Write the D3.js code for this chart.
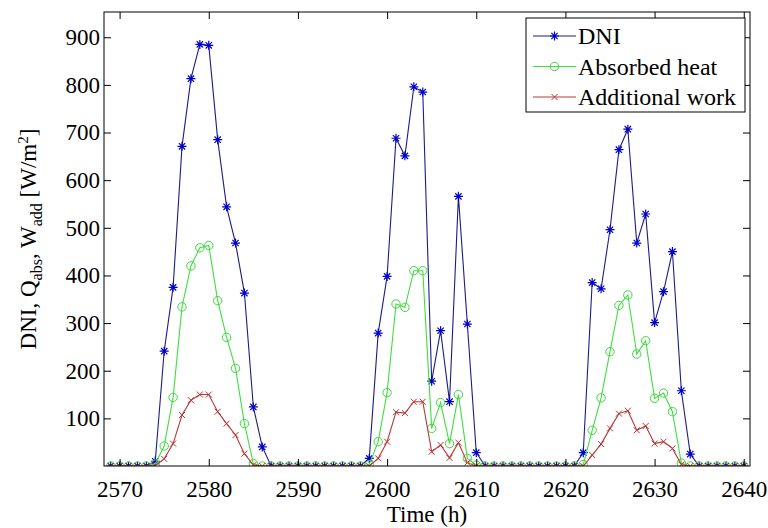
<!DOCTYPE html>
<html>
<head>
<meta charset="utf-8">
<script src="https://cdn.jsdelivr.net/npm/d3@7"></script>
<style>
    body { margin: 0; background: #fff; }
</style>
</head>
<body>
<div id="chart"></div>
<script>
// Hours (x values)
const hours = [
    2569, 2570, 2571, 2572, 2573, 2574, 2575, 2576, 2577, 2578, 2579, 2580,
    2581, 2582, 2583, 2584, 2585, 2586, 2587, 2588, 2589, 2590, 2591, 2592,
    2593, 2594, 2595, 2596, 2597, 2598, 2599, 2600, 2601, 2602, 2603, 2604,
    2605, 2606, 2607, 2608, 2609, 2610, 2611, 2612, 2613, 2614, 2615, 2616,
    2617, 2618, 2619, 2620, 2621, 2622, 2623, 2624, 2625, 2626, 2627, 2628,
    2629, 2630, 2631, 2632, 2633, 2634, 2635, 2636, 2637, 2638, 2639, 2640
];

const dni = [
    0, 0, 0, 0, 0, 10, 241, 375, 671, 813, 885, 883,
    685, 544, 468, 363, 124, 40, 0, 0, 0, 0, 0, 0,
    0, 0, 0, 0, 0, 16, 279, 398, 688, 651, 796, 785,
    178, 284, 135, 566, 298, 28, 0, 0, 0, 0, 0, 0,
    0, 0, 0, 0, 0, 28, 385, 372, 496, 664, 707, 468,
    529, 301, 366, 450, 158, 25, 0, 0, 0, 0, 0, 0
];

const absorbedHeat = [
    0, 0, 0, 0, 0, 4, 42, 144, 334, 420, 458, 463,
    347, 270, 205, 89, 5, 0, 0, 0, 0, 0, 0, 0,
    0, 0, 0, 0, 0, 3, 51, 154, 340, 333, 410, 410,
    79, 133, 47, 150, 16, 2, 0, 0, 0, 0, 0, 0,
    0, 0, 0, 0, 0, 3, 75, 143, 240, 337, 359, 235,
    263, 142, 153, 114, 6, 0, 0, 0, 0, 0, 0, 0
];

const additionalWork = [
    0, 0, 0, 0, 0, 1, 15, 47, 107, 138, 150, 150,
    114, 89, 65, 26, 2, 0, 0, 0, 0, 0, 0, 0,
    0, 0, 0, 0, 0, 0, 16, 51, 113, 111, 135, 135,
    30, 44, 17, 49, 7, 0, 0, 0, 0, 0, 0, 0,
    0, 0, 0, 0, 0, 0, 23, 46, 79, 110, 116, 75,
    84, 47, 51, 37, 3, 0, 0, 0, 0, 0, 0, 0
];

const xTicks = [2570, 2580, 2590, 2600, 2610, 2620, 2630, 2640];
const yTicks = [100, 200, 300, 400, 500, 600, 700, 800, 900];

const seriesNames = ['DNI', 'Absorbed heat', 'Additional work'];

const width = 768;
const height = 528;
const plot = { left: 104, right: 750, top: 12, bottom: 466 };
const serif = '"Liberation Serif", "Times New Roman", "DejaVu Serif", serif';

const svg = d3.select('#chart')
    .append('svg')
    .attr('width', width)
    .attr('height', height)
    .attr('font-family', serif);

const x = d3.scaleLinear()
    .domain([2568.25, 2640.7])
    .range([plot.left, plot.right]);

const y = d3.scaleLinear()
    .domain([0, 953])
    .range([plot.bottom, plot.top]);

const series = [
    { name: seriesNames[0], values: dni, line: '#1c1c86', mark: '#0000c8', marker: 'star' },
    { name: seriesNames[1], values: absorbedHeat, line: '#3ee03e', mark: '#3ed83e', marker: 'circle' },
    { name: seriesNames[2], values: additionalWork, line: '#b83a3a', mark: '#c03030', marker: 'cross' }
];

// Marker drawing helper
function drawMarker(g, type, cx, cy, color) {
    if (type === 'star') {
        const s = 4.5;
        const d = s * 0.7;
        g.append('path')
            .attr('d', `M${cx - s},${cy}H${cx + s}M${cx},${cy - s}V${cy + s}` +
                `M${cx - d},${cy - d}L${cx + d},${cy + d}M${cx - d},${cy + d}L${cx + d},${cy - d}`)
            .attr('stroke', color)
            .attr('stroke-width', 1.2)
            .attr('fill', 'none');
    } else if (type === 'circle') {
        g.append('circle')
            .attr('cx', cx)
            .attr('cy', cy)
            .attr('r', 4.2)
            .attr('fill', 'none')
            .attr('stroke', color)
            .attr('stroke-width', 1);
    } else {
        const s = 3;
        g.append('path')
            .attr('d', `M${cx - s},${cy - s}L${cx + s},${cy + s}M${cx - s},${cy + s}L${cx + s},${cy - s}`)
            .attr('stroke', color)
            .attr('stroke-width', 1)
            .attr('fill', 'none');
    }
}

// Clip so nothing spills outside the frame
svg.append('clipPath')
    .attr('id', 'plot-clip')
    .append('rect')
    .attr('x', plot.left)
    .attr('y', plot.top)
    .attr('width', plot.right - plot.left)
    .attr('height', plot.bottom - plot.top);

const line = d3.line()
    .x((d, i) => x(hours[i]))
    .y(d => y(d));

const plotG = svg.append('g').attr('clip-path', 'url(#plot-clip)');

series.forEach(s => {
    plotG.append('path')
        .datum(s.values)
        .attr('fill', 'none')
        .attr('stroke', s.line)
        .attr('stroke-width', 1.1)
        .attr('d', line);

    const mg = plotG.append('g');
    s.values.forEach((v, i) => drawMarker(mg, s.marker, x(hours[i]), y(v), s.mark));
});

// Axes (MATLAB style: inward ticks on all four sides)
const tickLen = 7;
const fontSize = 23;

svg.append('g')
    .attr('transform', `translate(0,${plot.bottom})`)
    .call(d3.axisBottom(x).tickValues(xTicks).tickSize(-tickLen).tickPadding(9).tickFormat(d3.format('d')))
    .call(g => g.select('.domain').remove())
    .call(g => g.selectAll('text').attr('dy', '0.95em'));

svg.append('g')
    .attr('transform', `translate(0,${plot.top})`)
    .call(d3.axisTop(x).tickValues(xTicks).tickSize(-tickLen).tickFormat(''))
    .call(g => g.select('.domain').remove());

svg.append('g')
    .attr('transform', `translate(${plot.left},0)`)
    .call(d3.axisLeft(y).tickValues(yTicks).tickSize(-tickLen).tickPadding(4))
    .call(g => g.select('.domain').remove());

svg.append('g')
    .attr('transform', `translate(${plot.right},0)`)
    .call(d3.axisRight(y).tickValues(yTicks).tickSize(-tickLen).tickFormat(''))
    .call(g => g.select('.domain').remove());

// d3 axes set their own sans-serif font; put the serif back
svg.selectAll('.tick text')
    .attr('font-family', serif)
    .attr('font-size', fontSize)
    .attr('fill', '#000');
svg.selectAll('.tick line').attr('stroke', '#000');

// Frame
svg.append('rect')
    .attr('x', plot.left)
    .attr('y', plot.top)
    .attr('width', plot.right - plot.left)
    .attr('height', plot.bottom - plot.top)
    .attr('fill', 'none')
    .attr('stroke', '#000')
    .attr('stroke-width', 1);

// X label
svg.append('text')
    .attr('x', (plot.left + plot.right) / 2)
    .attr('y', 522)
    .attr('text-anchor', 'middle')
    .attr('font-size', fontSize)
    .text('Time (h)');

// Y label with sub/superscripts
const yLabel = svg.append('text')
    .attr('transform', `translate(36,${(plot.top + plot.bottom) / 2}) rotate(-90)`)
    .attr('text-anchor', 'middle')
    .attr('font-size', fontSize);
yLabel.append('tspan').text('DNI, Q');
yLabel.append('tspan').attr('dy', 6).attr('font-size', 16).text('abs');
yLabel.append('tspan').attr('dy', -6).text(', W');
yLabel.append('tspan').attr('dy', 6).attr('font-size', 16).text('add');
yLabel.append('tspan').attr('dy', -6).text(' [W/m');
yLabel.append('tspan').attr('dy', -8).attr('font-size', 15).text('2');
yLabel.append('tspan').attr('dy', 8).text(']');

// Legend
const legend = svg.append('g');
legend.append('rect')
    .attr('x', 526)
    .attr('y', 18)
    .attr('width', 219)
    .attr('height', 94)
    .attr('fill', '#fff')
    .attr('stroke', '#000')
    .attr('stroke-width', 1);

series.forEach((s, i) => {
    const ly = 36 + i * 30.5;
    legend.append('line')
        .attr('x1', 533)
        .attr('x2', 576)
        .attr('y1', ly)
        .attr('y2', ly)
        .attr('stroke', s.line)
        .attr('stroke-width', 1.1);
    drawMarker(legend, s.marker, 554.5, ly, s.mark);
    legend.append('text')
        .attr('x', 578)
        .attr('y', ly + 8)
        .attr('font-size', 24)
        .text(s.name);
});
</script>
</body>
</html>
